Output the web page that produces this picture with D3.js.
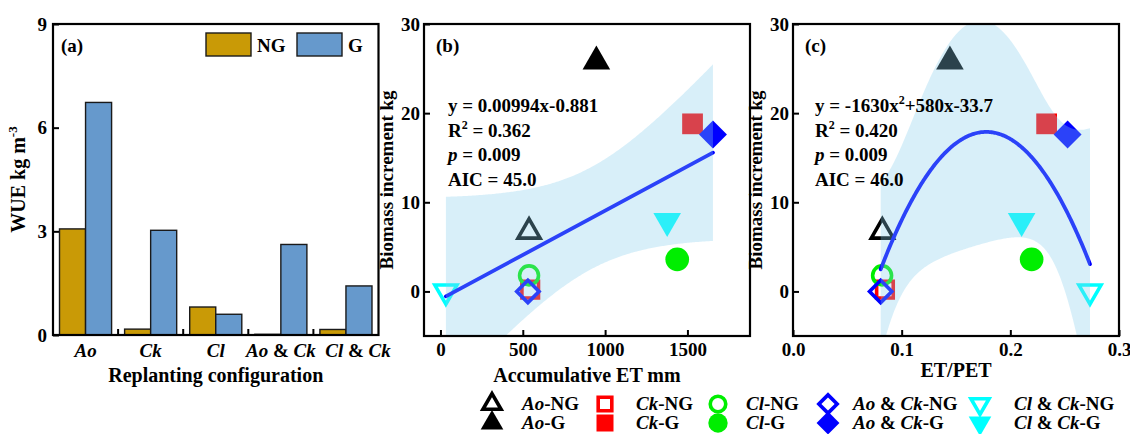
<!DOCTYPE html>
<html><head><meta charset="utf-8">
<script src="https://cdn.jsdelivr.net/npm/d3@7"></script>
<style>
body{margin:0;background:#fff}
svg{display:block;font-family:"Liberation Serif","Times New Roman",serif;font-weight:bold}
</style></head><body>
<svg id="chart" width="1130" height="434"></svg>
<script>
// ---------- DATA ----------
const categories = ["Ao", "Ck", "Cl", "Ao & Ck", "Cl & Ck"];
const seriesNames = ["NG", "G"];
const wueNG = [3.07, 0.17, 0.81, 0.02, 0.16];
const wueG  = [6.73, 3.03, 0.60, 2.62, 1.42];
const wueTicks = [0, 3, 6, 9];

const pointLabels = ["Ao-NG", "Ao-G", "Ck-NG", "Ck-G", "Cl-NG", "Cl-G", "Ao & Ck-NG", "Ao & Ck-G", "Cl & Ck-NG", "Cl & Ck-G"];
const accumET = [538, 947, 545, 1531, 538, 1438, 531, 1655, 33, 1377];
const etPet   = [0.0822, 0.1444, 0.0846, 0.2334, 0.0820, 0.2196, 0.0807, 0.2527, 0.2733, 0.2104];
const biomass = [6.7, 25.8, 0.2, 18.8, 1.8, 3.6, 0, 17.6, 0, 7.9];
const etTicks = [0, 500, 1000, 1500];
const ratioTicks = [0.0, 0.1, 0.2, 0.3];
const biomassTicks = [0, 10, 20, 30];
const linCoef = [0.00994, -0.881];          // slope, intercept
const quadCoef = [-1630, 580, -33.7];       // a, b, c
const statsB = ["y = 0.00994x-0.881", "0.362", "0.009", "45.0"];
const statsC = ["y = -1630x", "+580x-33.7", "0.420", "0.009", "46.0"];

// ---------- STYLE ----------
const markerStyle = [
  {shape: "tri",  color: "#000000", open: true},
  {shape: "tri",  color: "#000000", open: false},
  {shape: "sq",   color: "#FF0000", open: true},
  {shape: "sq",   color: "#FF0000", open: false},
  {shape: "circ", color: "#00EE00", open: true},
  {shape: "circ", color: "#00EE00", open: false},
  {shape: "dia",  color: "#0000FF", open: true},
  {shape: "dia",  color: "#0000FF", open: false},
  {shape: "dtri", color: "#00FFFF", open: true},
  {shape: "dtri", color: "#00FFFF", open: false}
];
const colNG = "#C99A06", colG = "#6699CC";
const FS = 19;

const svg = d3.select("#chart");

function symPath(shape, scale) {
  const s = scale || 1;
  if (shape === "tri" || shape === "dtri") return d3.symbol(d3.symbolTriangle, 330 * s * s)();
  if (shape === "sq") return d3.symbol(d3.symbolSquare, 430 * s * s)();
  if (shape === "circ") return d3.symbol(d3.symbolCircle, 440 * s * s)();
  if (shape === "dia") return d3.symbol(d3.symbolSquare, 390 * s * s)();
}
function symRot(shape) { return shape === "dtri" ? 180 : (shape === "dia" ? 45 : 0); }

function drawMarker(g, x, y, st, scale) {
  const sc = st.open ? 0.8 * (scale || 1) : (scale || 1);
  g.append("path")
    .attr("d", symPath(st.shape, sc))
    .attr("transform", `translate(${x},${y}) rotate(${symRot(st.shape)})`)
    .attr("fill", st.open ? "none" : st.color)
    .attr("stroke", st.color)
    .attr("stroke-width", st.open ? 3.6 : 0)
    .attr("stroke-linejoin", "miter");
}

function rich(textSel, label) {
  const m = label.match(/^(.*?)(-(?:NG|G))?$/);
  const base = m[1], suf = m[2] || "";
  const parts = base.split(" & ");
  parts.forEach((p, i) => {
    if (i > 0) textSel.append("tspan").attr("font-style", "normal").text(" & ");
    textSel.append("tspan").attr("font-style", "italic").text(p);
  });
  if (suf) textSel.append("tspan").attr("font-style", "normal").text(suf);
}

function frame(g, L, T, R, B) {
  g.append("rect").attr("x", L).attr("y", T).attr("width", R - L).attr("height", B - T)
    .attr("fill", "none").attr("stroke", "#000").attr("stroke-width", 2.2);
}
function styleAxis(ax) {
  ax.attr("font-family", null).attr("font-size", null);
  ax.select(".domain").remove();
  ax.selectAll("line").attr("stroke", "#000").attr("stroke-width", 2);
  ax.selectAll("text").attr("font-size", FS).attr("fill", "#000");
}

// ---------- PANEL (a) ----------
(function () {
  const L = 53, R = 378.5, T = 24, B = 335;
  const g = svg.append("g");
  const x = d3.scaleBand().domain(categories).range([L, R]).paddingInner(0.2).paddingOuter(0.1);
  const xs = d3.scaleBand().domain(seriesNames).range([0, x.bandwidth()]);
  const y = d3.scaleLinear().domain([0, 9]).range([B, T]);
  const vals = {NG: wueNG, G: wueG};
  const cols = {NG: colNG, G: colG};
  categories.forEach((c, i) => {
    seriesNames.forEach(s => {
      g.append("rect")
        .attr("x", x(c) + xs(s)).attr("y", y(vals[s][i]))
        .attr("width", xs.bandwidth()).attr("height", y(0) - y(vals[s][i]))
        .attr("fill", cols[s]).attr("stroke", "#1a1a1a").attr("stroke-width", 1.4);
    });
  });
  frame(g, L, T, R, B);
  const ay = g.append("g").attr("transform", `translate(${L},0)`)
    .call(d3.axisLeft(y).tickValues(wueTicks).tickSize(-6).tickPadding(6).tickFormat(d3.format("d")));
  styleAxis(ay);
  const ax = g.append("g").attr("transform", `translate(0,${B})`)
    .call(d3.axisBottom(x).tickSize(0).tickPadding(9));
  styleAxis(ax);
  ax.selectAll("text").each(function (d, i) {
    const t = d3.select(this); t.text(null); rich(t, d);
    if (i === categories.length - 1) t.attr("dx", 12);
  });
  categories.slice(1).forEach(c => {
    const bx = x(c) - x.step() * x.paddingInner() / 2;
    g.append("line").attr("x1", bx).attr("x2", bx).attr("y1", B).attr("y2", B - 6)
      .attr("stroke", "#000").attr("stroke-width", 2);
  });
  g.append("text").attr("x", 61).attr("y", 52).attr("font-size", FS).text("(a)");
  const lg = [{s: "NG", x: 206, tx: 257}, {s: "G", x: 297, tx: 348}];
  lg.forEach(o => {
    g.append("rect").attr("x", o.x).attr("y", 33).attr("width", 45).attr("height", 23)
      .attr("fill", cols[o.s]).attr("stroke", "#1a1a1a").attr("stroke-width", 1.4);
    g.append("text").attr("x", o.tx).attr("y", 52).attr("font-size", FS).text(o.s);
  });
  const yl = g.append("text").attr("transform", `translate(25,${(T + B) / 2}) rotate(-90)`)
    .attr("text-anchor", "middle").attr("font-size", FS + 1);
  yl.append("tspan").text("WUE kg m");
  yl.append("tspan").attr("dy", -8).attr("font-size", 13).text("-3");
  g.append("text").attr("x", (L + R) / 2).attr("y", 382).attr("text-anchor", "middle")
    .attr("font-size", FS + 1).text("Replanting configuration");
})();

// ---------- regression helpers ----------
function tcrit(df) { return {7: 2.3646, 8: 2.3060}[df]; }
function linearBand(xv, yv, coef, xs) {
  const n = xv.length, xbar = d3.mean(xv);
  const sxx = d3.sum(xv, v => (v - xbar) ** 2);
  const sse = d3.sum(xv, (v, i) => (yv[i] - (coef[0] * v + coef[1])) ** 2);
  const s = Math.sqrt(sse / (n - 2)), t = tcrit(n - 2);
  return xs.map(x0 => {
    const f = coef[0] * x0 + coef[1];
    const h = t * s * Math.sqrt(1 / n + (x0 - xbar) ** 2 / sxx);
    return {x: x0, lo: f - h, hi: f + h};
  });
}
function inv3(m) {
  const [a, b, c] = m[0], [d, e, f] = m[1], [g, h, i] = m[2];
  const A = e * i - f * h, Bv = -(d * i - f * g), C = d * h - e * g;
  const det = a * A + b * Bv + c * C;
  return [
    [A / det, -(b * i - c * h) / det, (b * f - c * e) / det],
    [Bv / det, (a * i - c * g) / det, -(a * f - c * d) / det],
    [C / det, -(a * h - b * g) / det, (a * e - b * d) / det]
  ];
}
function quadBand(xv, yv, coef, xs) {
  const n = xv.length;
  const rows = xv.map(v => [1, v, v * v]);
  const XtX = [0, 1, 2].map(r => [0, 1, 2].map(c => d3.sum(rows, q => q[r] * q[c])));
  const M = inv3(XtX);
  const fit = v => coef[0] * v * v + coef[1] * v + coef[2];
  const sse = d3.sum(xv, (v, i) => (yv[i] - fit(v)) ** 2);
  const s = Math.sqrt(sse / (n - 3)), t = tcrit(n - 3);
  return xs.map(x0 => {
    const v = [1, x0, x0 * x0];
    let q = 0;
    for (let r = 0; r < 3; r++) for (let c = 0; c < 3; c++) q += v[r] * M[r][c] * v[c];
    const h = t * s * Math.sqrt(q);
    return {x: x0, lo: fit(x0) - h, hi: fit(x0) + h};
  });
}

function scatterPanel(opt) {
  const {L, R, T, B, xDomain, xTicks, xFmt, xv, band, curve, label, stats, stx, xTitle, xTitleY, id} = opt;
  const g = svg.append("g");
  const x = d3.scaleLinear().domain(xDomain).range([L, R]);
  const y = d3.scaleLinear().domain([-5, 30]).range([B, T]);
  g.append("clipPath").attr("id", id).append("rect")
    .attr("x", L).attr("y", T).attr("width", R - L).attr("height", B - T);
  const pg = g.append("g").attr("clip-path", `url(#${id})`);
  xv.forEach((v, i) => drawMarker(pg, x(v), y(biomass[i]), markerStyle[i]));
  const line = d3.line().x(d => x(d.x)).y(d => y(d.y));
  pg.append("path").attr("d", line(curve)).attr("fill", "none")
    .attr("stroke", "#0000FF").attr("stroke-width", 3.8).attr("stroke-linecap", "round");
  const area = d3.area().x(d => x(d.x)).y0(d => y(d.lo)).y1(d => y(d.hi));
  pg.append("path").attr("d", area(band)).attr("fill", "#87CEEB").attr("fill-opacity", 0.32);
  frame(g, L, T, R, B);
  const ay = g.append("g").attr("transform", `translate(${L},0)`)
    .call(d3.axisLeft(y).tickValues(biomassTicks).tickSize(-6).tickPadding(4).tickFormat(d3.format("d")));
  styleAxis(ay);
  const ax = g.append("g").attr("transform", `translate(0,${B})`)
    .call(d3.axisBottom(x).tickValues(xTicks).tickSize(-6).tickPadding(7).tickFormat(xFmt));
  styleAxis(ax);
  g.append("text").attr("x", L + 12).attr("y", 52).attr("font-size", FS).text(label);
  const lh = [112, 137, 161, 186];
  const t1 = g.append("text").attr("x", stx).attr("y", lh[0]).attr("font-size", FS);
  if (stats.length === 5) {
    t1.append("tspan").text(stats[0]);
    t1.append("tspan").attr("dy", -8).attr("font-size", 12).text("2");
    t1.append("tspan").attr("dy", 8).text(stats[1]);
  } else t1.text(stats[0]);
  const k = stats.length - 3;
  const t2 = g.append("text").attr("x", stx).attr("y", lh[1]).attr("font-size", FS);
  t2.append("tspan").text("R");
  t2.append("tspan").attr("dy", -8).attr("font-size", 12).text("2");
  t2.append("tspan").attr("dy", 8).text(" = " + stats[k]);
  const t3 = g.append("text").attr("x", stx).attr("y", lh[2]).attr("font-size", FS);
  t3.append("tspan").attr("font-style", "italic").text("p");
  t3.append("tspan").text(" = " + stats[k + 1]);
  g.append("text").attr("x", stx).attr("y", lh[3]).attr("font-size", FS).text("AIC = " + stats[k + 2]);
  g.append("text").attr("transform", `translate(${L - 31},${(T + B) / 2}) rotate(-90)`)
    .attr("text-anchor", "middle").attr("font-size", FS).text("Biomass increment kg");
  g.append("text").attr("x", (L + R) / 2).attr("y", xTitleY).attr("text-anchor", "middle")
    .attr("font-size", FS + 1).text(xTitle);
}

// ---------- PANEL (b) ----------
(function () {
  const xmin = d3.min(accumET), xmax = d3.max(accumET);
  const xs = d3.range(0, 201).map(i => xmin + (xmax - xmin) * i / 200);
  scatterPanel({
    id: "clipB", L: 424, R: 750, T: 24, B: 336, xDomain: [-100, 1880], xTicks: etTicks,
    xFmt: d3.format("d"), xv: accumET,
    band: linearBand(accumET, biomass, linCoef, xs),
    curve: [xmin, xmax].map(v => ({x: v, y: linCoef[0] * v + linCoef[1]})),
    label: "(b)", stats: statsB, stx: 448, xTitle: "Accumulative ET mm", xTitleY: 382
  });
})();

// ---------- PANEL (c) ----------
(function () {
  const xmin = d3.min(etPet), xmax = d3.max(etPet);
  const xs = d3.range(0, 201).map(i => xmin + (xmax - xmin) * i / 200);
  scatterPanel({
    id: "clipC", L: 793, R: 1119, T: 24, B: 336, xDomain: [0, 0.3], xTicks: ratioTicks,
    xFmt: d3.format(".1f"), xv: etPet,
    band: quadBand(etPet, biomass, quadCoef, xs),
    curve: xs.map(v => ({x: v, y: quadCoef[0] * v * v + quadCoef[1] * v + quadCoef[2]})),
    label: "(c)", stats: statsC, stx: 815, xTitle: "ET/PET", xTitleY: 377
  });
})();

// ---------- bottom legend ----------
(function () {
  const g = svg.append("g");
  const colX = [492, 605, 718, 828, 980];
  const txtX = [522, 636, 746, 853, 1014];
  const rowY = [404, 423];
  pointLabels.forEach((lab, i) => {
    const c = Math.floor(i / 2), r = i % 2;
    drawMarker(g, colX[c], rowY[r], markerStyle[i], 0.82);
    const t = g.append("text").attr("x", txtX[c]).attr("y", rowY[r] + 6).attr("font-size", FS);
    rich(t, lab);
  });
})();
</script>
</body></html>
